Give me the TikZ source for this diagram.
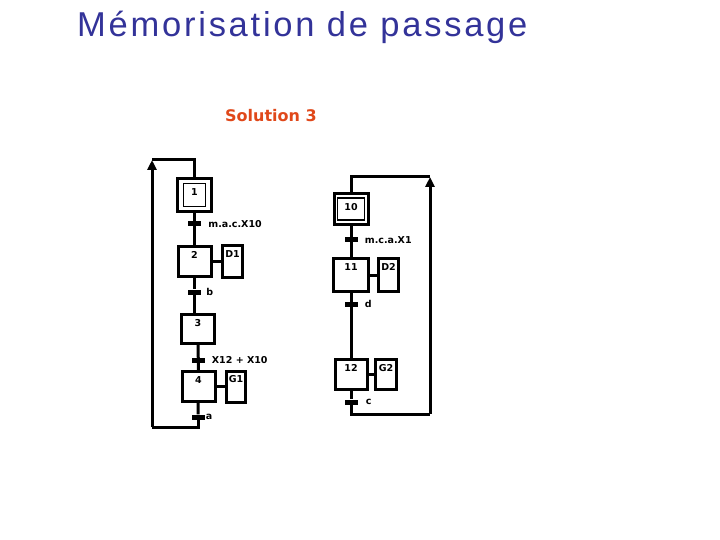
\documentclass[tikz,border=0pt]{standalone}
\usepackage{fontspec}
\usepackage{tikz}
\usetikzlibrary{arrows.meta, positioning}
\newfontfamily\titlefont[LetterSpace=8]{Liberation Sans}
\newfontfamily\grafcetfont{DejaVu Sans}
\definecolor{titleblue}{HTML}{333399}
\definecolor{solred}{HTML}{E0481A}

\begin{document}
\begin{tikzpicture}[x=1bp, y=-1bp,
    tlabel/.style={font=\grafcetfont\bfseries\fontsize{9.5bp}{11bp}\selectfont, inner sep=0pt},
    frame/.style={draw, line width=3bp, inner sep=0pt, minimum width=33bp, minimum height=30bp},
    stepbox/.style={frame, label={[tlabel, anchor=north, yshift=-6bp]north:#1}},
    innerbox/.style={draw, line width=1.3bp, inner sep=0pt, label={[tlabel, anchor=north, yshift=-6bp]north:#1}},
    actbox/.style={stepbox=#1, minimum width=20bp, minimum height=31bp},
    trans/.style={fill, inner sep=0pt, minimum width=13bp, minimum height=5bp},
    link/.style={line width=3bp},
    loop/.style={line width=3bp, -{Triangle[width=9bp, length=10bp]}}]
        \useasboundingbox (0,0) rectangle (720,540);
        % Titles
        \node[anchor=base west, inner sep=0pt, text=titleblue, font=\titlefont\fontsize{34.5bp}{40bp}\selectfont] (title) at (77,37) {Mémorisation de passage};
        \node[anchor=base west, inner sep=0pt, text=solred, font=\grafcetfont\bfseries\fontsize{16bp}{19bp}\selectfont] (sol) at (225,122) {Solution 3};
        % Left grafcet: steps
        \node[frame, minimum width=34bp, minimum height=33bp] (s1) at (194.5,195) {};
        \node[innerbox=1, minimum width=22bp, minimum height=23bp] (s1in) at (s1) {};
        \node[stepbox=2] (s2) at (194.5,261.5) {};
        \node[stepbox=3, minimum height=29bp] (s3) at (198,329) {};
        \node[stepbox=4] (s4) at (198.5,386.5) {};
        % Left grafcet: actions
        \node[actbox=D1] (d1) at (232.5,261.5) {};
        \node[actbox=G1, minimum width=19bp] (g1) at (236,386.5) {};
        % Left grafcet: transitions
        \node[trans] (t1) at (194.5,224) {};
        \node[trans] (t2) at (194.5,292) {};
        \node[trans] (t3) at (198,360) {};
        \node[trans] (t4) at (198,417) {};
        \node[tlabel, right=7bp of t1] (r1) {m.a.c.X10};
        \node[tlabel, right=5bp of t2] (r2) {b};
        \node[tlabel, right=7bp of t3] (r3) {X12 + X10};
        \node[tlabel, right=1bp of t4] (r4) {a};
        % Left grafcet: links
        \draw[link] (s1) -- (s2);
        \draw[link] (s2) -- (t2) -- (t2 |- s3.north);
        \draw[link] (s3) -- (s4) -- (t4);
        \draw[link] (s2) -- (d1);
        \draw[link] (s4) -- (g1);
        \coordinate (bl) at (152,427);
        \coordinate (tl) at (152,160);
        \draw[link] (t4) |- (bl);
        \draw[loop] (bl) -- (tl);
        \draw[link] (tl) -| (s1.north);
        % Right grafcet: steps
        \node[frame, minimum width=34bp, minimum height=31bp] (s10) at (351,209) {};
        \node[innerbox=10, minimum width=27bp, minimum height=22bp] (s10in) at (s10) {};
        \node[stepbox=11, minimum width=35bp, minimum height=33bp] (s11) at (351,275) {};
        \node[stepbox=12, minimum width=32bp] (s12) at (351,374.5) {};
        % Right grafcet: actions
        \node[actbox=D2, minimum height=33bp] (d2) at (388.5,275) {};
        \node[actbox=G2, minimum width=21bp, minimum height=30bp] (g2) at (386,374.5) {};
        % Right grafcet: transitions
        \node[trans] (t10) at (351,240) {};
        \node[trans] (t11) at (351,304) {};
        \node[trans] (t12) at (351,402) {};
        \node[tlabel, right=7bp of t10] (r10) {m.c.a.X1};
        \node[tlabel, right=7bp of t11] (r11) {d};
        \node[tlabel, right=8bp of t12] (r12) {c};
        % Right grafcet: links
        \draw[link] (s10) -- (s11);
        \draw[link] (s11) -- (s12);
        \draw[link] (s12) -- (t12);
        \draw[link] (s11) -- (d2);
        \draw[link] (s12) -- (g2);
        \coordinate (br) at (430,414);
        \coordinate (tr) at (430,177);
        \draw[link] (t12) |- (br);
        \draw[loop] (br) -- (tr);
        \draw[link] (tr) -| (s10.north);
\end{tikzpicture}
\end{document}
